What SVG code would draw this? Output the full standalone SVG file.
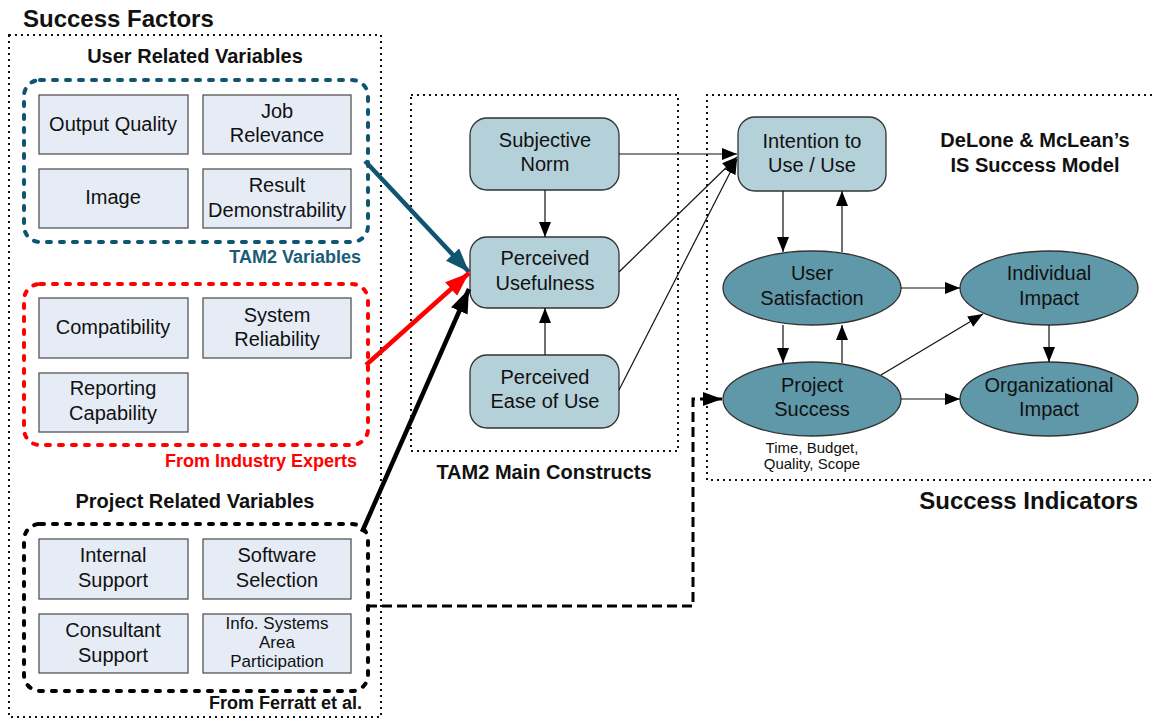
<svg xmlns="http://www.w3.org/2000/svg" width="1152" height="719" viewBox="0 0 1152 719">
<style>
text{font-family:"Liberation Sans",Arial,sans-serif;fill:#111}
.t{font-size:20px;text-anchor:middle}
.h{font-size:20px;font-weight:bold;text-anchor:middle}
.big{font-size:24px;font-weight:bold}
.sub{font-size:18px;font-weight:bold;text-anchor:end}
.dot{fill:none;stroke:#111;stroke-width:2;stroke-dasharray:2 4}
.grp{fill:none;stroke-width:4;stroke-dasharray:4 9;stroke-linecap:round}
.var{fill:#e6ecf6;stroke:#555;stroke-width:1.3}
.tam{fill:#b4d0d9;stroke:#333;stroke-width:1.3}
.ell{fill:#5f98a9;stroke:#333;stroke-width:1.3}
.thin{fill:none;stroke:#111;stroke-width:1.2;marker-end:url(#ah)}
.thick{fill:none;stroke-width:4.5}
</style>
<defs>
<marker id="ah" markerUnits="userSpaceOnUse" markerWidth="16" markerHeight="12" refX="15" refY="6" orient="auto"><path d="M0,0 L15,6 L0,12 z" fill="#000"/></marker>
<marker id="ahT" markerUnits="userSpaceOnUse" markerWidth="26" markerHeight="20" refX="24" refY="9" orient="auto"><path d="M0,0 L24,9 L0,18 z" fill="#0f5470"/></marker>
<marker id="ahR" markerUnits="userSpaceOnUse" markerWidth="26" markerHeight="20" refX="24" refY="9" orient="auto"><path d="M0,0 L24,9 L0,18 z" fill="#ff0000"/></marker>
<marker id="ahB" markerUnits="userSpaceOnUse" markerWidth="26" markerHeight="20" refX="24" refY="9" orient="auto"><path d="M0,0 L24,9 L0,18 z" fill="#000"/></marker>
<marker id="ahD" markerUnits="userSpaceOnUse" markerWidth="20" markerHeight="14" refX="19" refY="7" orient="auto"><path d="M0,0 L19,7 L0,14 z" fill="#000"/></marker>
</defs>

<g id="success-factors">
<rect class="dot" x="9" y="35" width="372" height="682"/>
<text class="big" x="23" y="27">Success Factors</text>
<text class="h" x="195" y="63">User Related Variables</text>
<text class="h" x="195" y="508">Project Related Variables</text>
</g>

<g id="tam2-variables">
<rect class="grp" x="24" y="80" width="344" height="162" rx="16" stroke="#0f5470"/>
<text class="sub" x="361" y="263" style="fill:#1b5d78">TAM2 Variables</text>
</g>
<g id="output-quality"><rect class="var" x="39" y="95" width="149" height="59"/><text class="t" x="113" y="131">Output Quality</text></g>
<g id="job-relevance"><rect class="var" x="203" y="95" width="148" height="59"/><text class="t" x="277" y="118">Job</text><text class="t" x="277" y="142">Relevance</text></g>
<g id="image"><rect class="var" x="39" y="169" width="149" height="59"/><text class="t" x="113" y="204">Image</text></g>
<g id="result-demonstrability"><rect class="var" x="203" y="169" width="148" height="59"/><text class="t" x="277" y="192">Result</text><text class="t" x="277" y="217">Demonstrability</text></g>

<g id="industry-experts">
<rect class="grp" x="24" y="284" width="344" height="161" rx="16" stroke="#ff0000"/>
<text class="sub" x="357" y="467" style="fill:#ff0000">From Industry Experts</text>
</g>
<g id="compatibility"><rect class="var" x="39" y="298" width="149" height="60"/><text class="t" x="113" y="334">Compatibility</text></g>
<g id="system-reliability"><rect class="var" x="203" y="298" width="148" height="60"/><text class="t" x="277" y="322">System</text><text class="t" x="277" y="346">Reliability</text></g>
<g id="reporting-capability"><rect class="var" x="39" y="373" width="149" height="59"/><text class="t" x="113" y="395">Reporting</text><text class="t" x="113" y="420">Capability</text></g>

<g id="ferratt">
<rect class="grp" x="24" y="524" width="344" height="167" rx="16" stroke="#000"/>
<text class="sub" x="362" y="709">From Ferratt et al.</text>
</g>
<g id="internal-support"><rect class="var" x="39" y="539" width="149" height="60"/><text class="t" x="113" y="562">Internal</text><text class="t" x="113" y="587">Support</text></g>
<g id="software-selection"><rect class="var" x="203" y="539" width="148" height="60"/><text class="t" x="277" y="562">Software</text><text class="t" x="277" y="587">Selection</text></g>
<g id="consultant-support"><rect class="var" x="39" y="614" width="149" height="59"/><text class="t" x="113" y="637">Consultant</text><text class="t" x="113" y="662">Support</text></g>
<g id="is-area-participation"><rect class="var" x="203" y="614" width="148" height="59"/><text class="t" x="277" y="629" style="font-size:17px">Info. Systems</text><text class="t" x="277" y="648" style="font-size:17px">Area</text><text class="t" x="277" y="667" style="font-size:17px">Participation</text></g>

<g id="tam2-main">
<rect class="dot" x="411" y="95" width="267" height="356"/>
<text class="h" x="544" y="479">TAM2 Main Constructs</text>
</g>
<g id="subjective-norm"><rect class="tam" x="470" y="118" width="149" height="72" rx="17"/><text class="t" x="545" y="147">Subjective</text><text class="t" x="545" y="171">Norm</text></g>
<g id="perceived-usefulness"><rect class="tam" x="470" y="237" width="149" height="71" rx="17"/><text class="t" x="545" y="265">Perceived</text><text class="t" x="545" y="290">Usefulness</text></g>
<g id="perceived-ease"><rect class="tam" x="470" y="355" width="149" height="73" rx="17"/><text class="t" x="545" y="384">Perceived</text><text class="t" x="545" y="408">Ease of Use</text></g>

<g id="success-indicators">
<path class="dot" d="M1152,95 H707 V480 H1152"/>
<text class="h" x="1035" y="147">DeLone &amp; McLean’s</text>
<text class="h" x="1035" y="172">IS Success Model</text>
<text class="big" x="1138" y="509" text-anchor="end">Success Indicators</text>
</g>
<g id="intention"><rect class="tam" x="738" y="117" width="148" height="74" rx="17"/><text class="t" x="812" y="148">Intention to</text><text class="t" x="812" y="172">Use / Use</text></g>
<g id="user-satisfaction"><ellipse class="ell" cx="812" cy="288" rx="89" ry="37"/><text class="t" x="812" y="280">User</text><text class="t" x="812" y="305">Satisfaction</text></g>
<g id="individual-impact"><ellipse class="ell" cx="1049" cy="288" rx="89" ry="37"/><text class="t" x="1049" y="280">Individual</text><text class="t" x="1049" y="305">Impact</text></g>
<g id="project-success"><ellipse class="ell" cx="812" cy="399" rx="89" ry="37"/><text class="t" x="812" y="392">Project</text><text class="t" x="812" y="416">Success</text><text x="812" y="453" style="font-size:15px;text-anchor:middle">Time, Budget,</text><text x="812" y="469" style="font-size:15px;text-anchor:middle">Quality, Scope</text></g>
<g id="organizational-impact"><ellipse class="ell" cx="1049" cy="399" rx="89" ry="37"/><text class="t" x="1049" y="392">Organizational</text><text class="t" x="1049" y="416">Impact</text></g>

<g id="connectors">
<line class="thick" x1="365" y1="161" x2="469" y2="272" stroke="#0f5470" marker-end="url(#ahT)"/>
<line class="thick" x1="366" y1="365" x2="469" y2="273" stroke="#ff0000" marker-end="url(#ahR)"/>
<line class="thick" x1="362" y1="532" x2="469" y2="289" stroke="#000" marker-end="url(#ahB)"/>
<path d="M367,606 H693 V399 H722" fill="none" stroke="#000" stroke-width="3" stroke-dasharray="10 5" marker-end="url(#ahD)"/>
<line class="thin" x1="545" y1="190" x2="545" y2="237"/>
<line class="thin" x1="545" y1="355" x2="545" y2="308"/>
<line class="thin" x1="619" y1="154" x2="737" y2="154"/>
<line class="thin" x1="619" y1="272" x2="737" y2="157"/>
<line class="thin" x1="619" y1="390" x2="737" y2="159"/>
<line class="thin" x1="783" y1="191" x2="783" y2="252"/>
<line class="thin" x1="842" y1="252" x2="842" y2="191"/>
<line class="thin" x1="901" y1="288" x2="960" y2="288"/>
<line class="thin" x1="783" y1="325" x2="783" y2="363"/>
<line class="thin" x1="842" y1="363" x2="842" y2="325"/>
<line class="thin" x1="881" y1="375" x2="983" y2="314"/>
<line class="thin" x1="901" y1="399" x2="960" y2="399"/>
<line class="thin" x1="1049" y1="325" x2="1049" y2="362"/>
</g>
</svg>
